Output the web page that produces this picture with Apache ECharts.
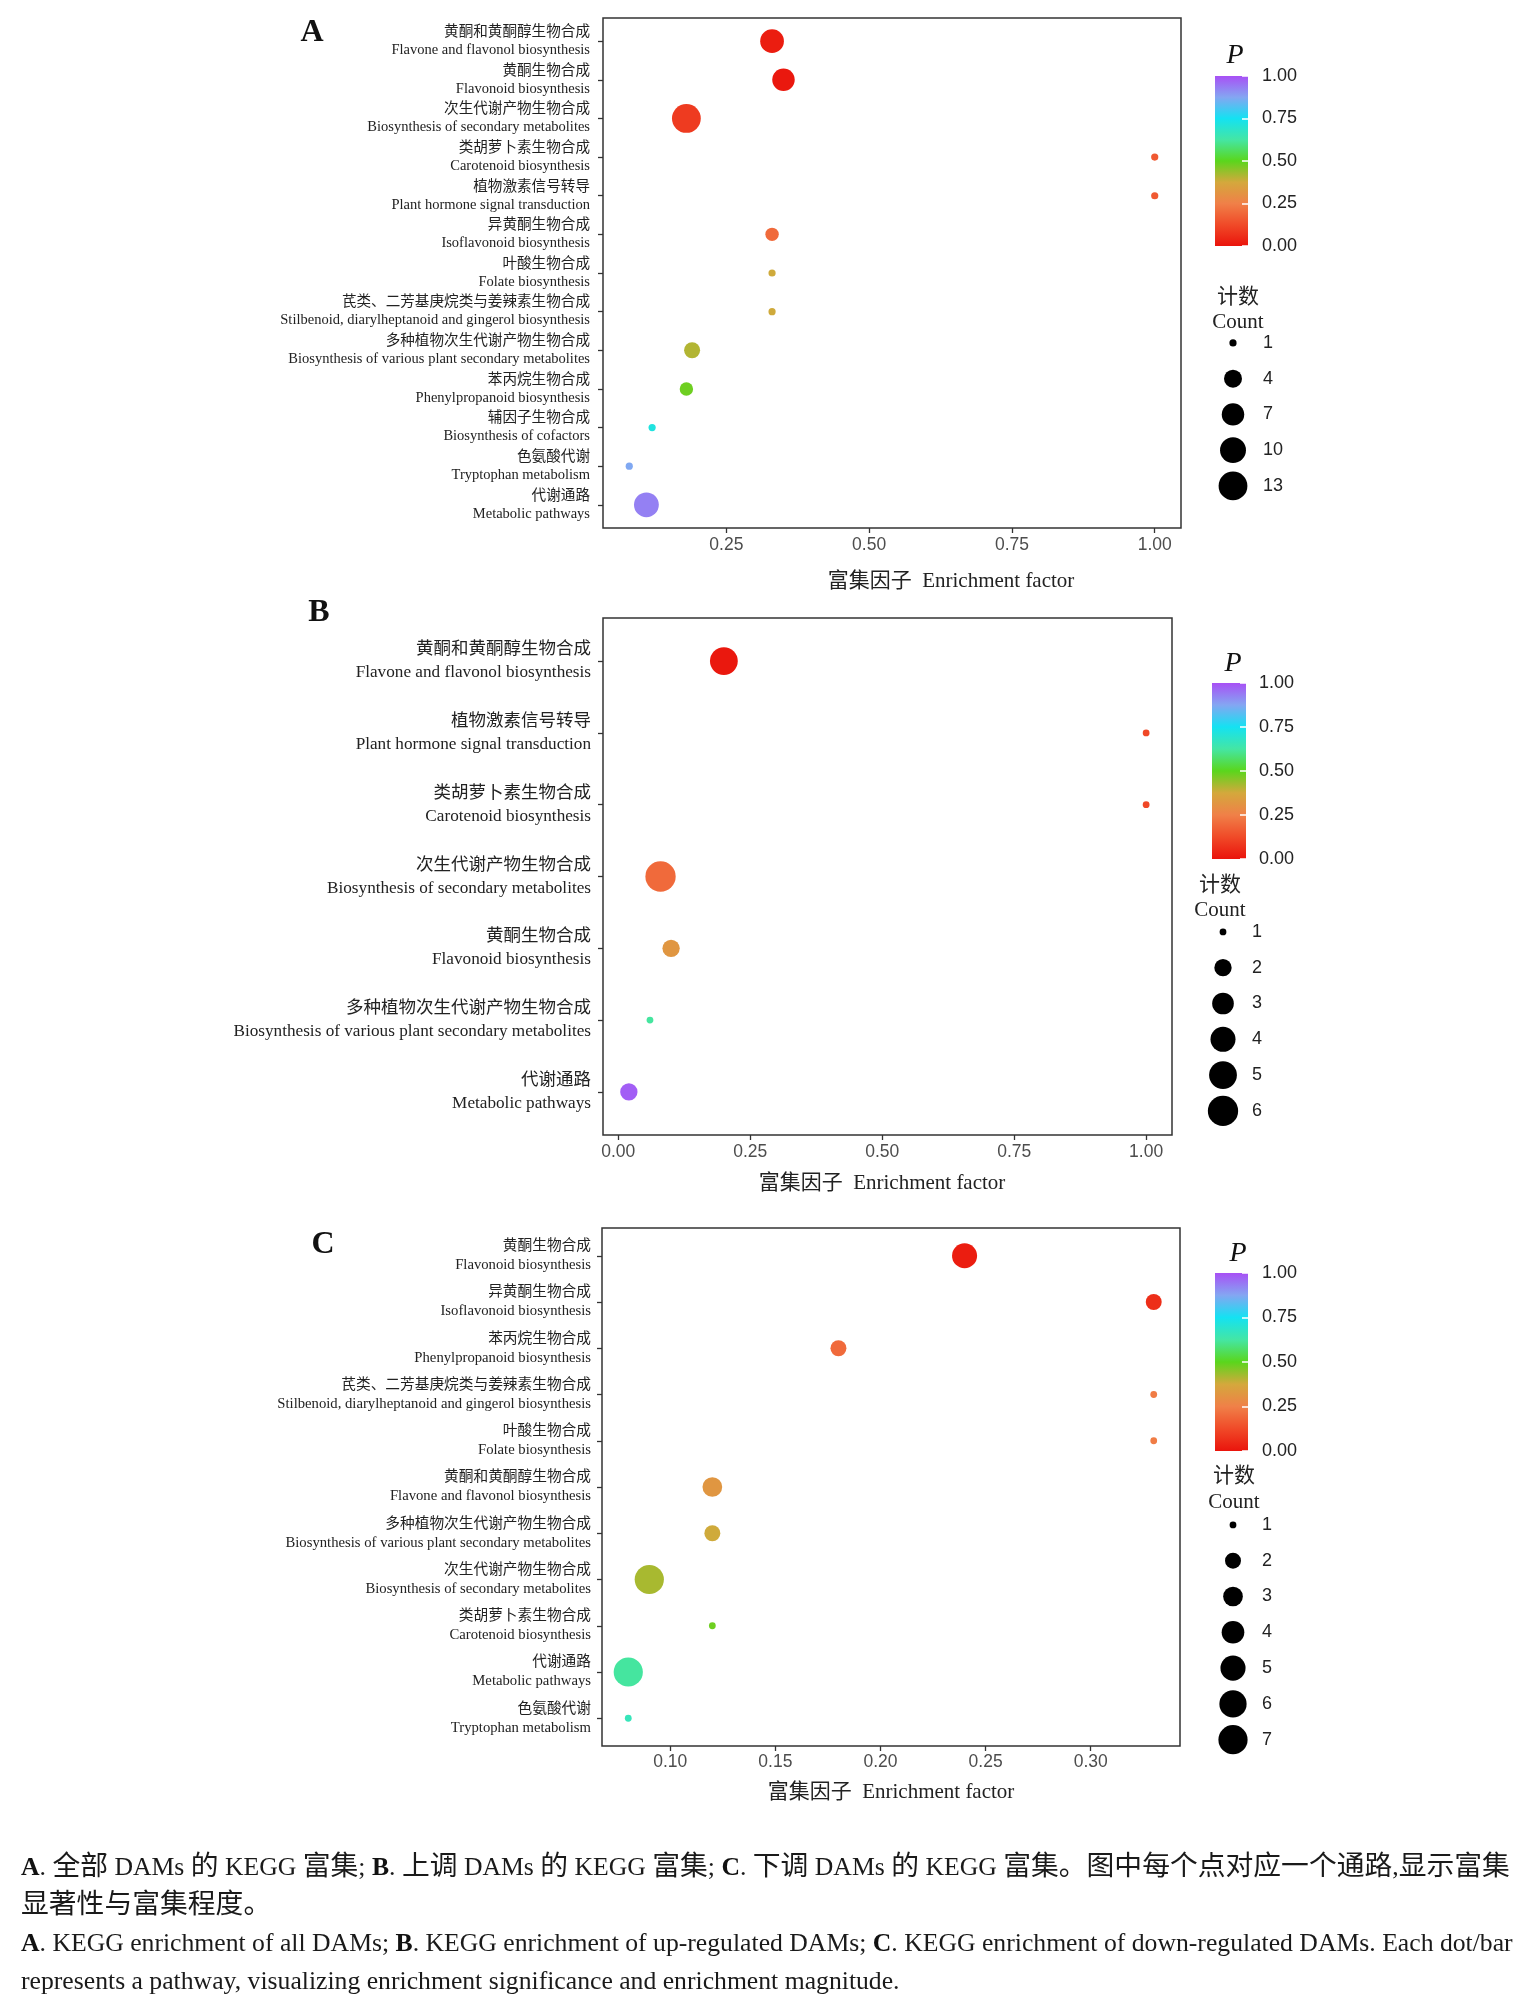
<!DOCTYPE html>
<html>
<head>
<meta charset="utf-8">
<title>KEGG enrichment</title>
<script src="https://cdn.jsdelivr.net/npm/echarts@6/dist/echarts.min.js"></script>
<style>
  html, body { margin: 0; padding: 0; background: #fff; }
  #chart { width: 1527px; height: 2009px; }
</style>
</head>
<body>
<div id="chart"></div>
<script>
// ---- data ----
// A: all DAMs
const pathCnA = ['黄酮和黄酮醇生物合成', '黄酮生物合成', '次生代谢产物生物合成', '类胡萝卜素生物合成', '植物激素信号转导',
  '异黄酮生物合成', '叶酸生物合成', '芪类、二芳基庚烷类与姜辣素生物合成', '多种植物次生代谢产物生物合成', '苯丙烷生物合成',
  '辅因子生物合成', '色氨酸代谢', '代谢通路'];
const pathEnA = ['Flavone and flavonol biosynthesis', 'Flavonoid biosynthesis', 'Biosynthesis of secondary metabolites',
  'Carotenoid biosynthesis', 'Plant hormone signal transduction', 'Isoflavonoid biosynthesis', 'Folate biosynthesis',
  'Stilbenoid, diarylheptanoid and gingerol biosynthesis', 'Biosynthesis of various plant secondary metabolites',
  'Phenylpropanoid biosynthesis', 'Biosynthesis of cofactors', 'Tryptophan metabolism', 'Metabolic pathways'];
const efA = [0.33, 0.35, 0.18, 1.00, 1.00, 0.33, 0.33, 0.33, 0.19, 0.18, 0.12, 0.08, 0.11];
const pA = [0.02, 0.01, 0.09, 0.16, 0.16, 0.20, 0.38, 0.38, 0.41, 0.48, 0.72, 0.87, 0.93];
const countA = [8, 7, 13, 1, 1, 2, 1, 1, 3, 2, 1, 1, 9];

// B: up-regulated DAMs
const pathCnB = ['黄酮和黄酮醇生物合成', '植物激素信号转导', '类胡萝卜素生物合成', '次生代谢产物生物合成', '黄酮生物合成',
  '多种植物次生代谢产物生物合成', '代谢通路'];
const pathEnB = ['Flavone and flavonol biosynthesis', 'Plant hormone signal transduction', 'Carotenoid biosynthesis',
  'Biosynthesis of secondary metabolites', 'Flavonoid biosynthesis', 'Biosynthesis of various plant secondary metabolites',
  'Metabolic pathways'];
const efB = [0.20, 1.00, 1.00, 0.08, 0.10, 0.06, 0.02];
const pB = [0.01, 0.12, 0.12, 0.20, 0.32, 0.62, 0.98];
const countB = [5, 1, 1, 6, 2, 1, 2];

// C: down-regulated DAMs
const pathCnC = ['黄酮生物合成', '异黄酮生物合成', '苯丙烷生物合成', '芪类、二芳基庚烷类与姜辣素生物合成', '叶酸生物合成',
  '黄酮和黄酮醇生物合成', '多种植物次生代谢产物生物合成', '次生代谢产物生物合成', '类胡萝卜素生物合成', '代谢通路', '色氨酸代谢'];
const pathEnC = ['Flavonoid biosynthesis', 'Isoflavonoid biosynthesis', 'Phenylpropanoid biosynthesis',
  'Stilbenoid, diarylheptanoid and gingerol biosynthesis', 'Folate biosynthesis', 'Flavone and flavonol biosynthesis',
  'Biosynthesis of various plant secondary metabolites', 'Biosynthesis of secondary metabolites', 'Carotenoid biosynthesis',
  'Metabolic pathways', 'Tryptophan metabolism'];
const efC = [0.24, 0.33, 0.18, 0.33, 0.33, 0.12, 0.12, 0.09, 0.12, 0.08, 0.08];
const pC = [0.02, 0.06, 0.20, 0.24, 0.24, 0.32, 0.38, 0.42, 0.48, 0.62, 0.66];
const countC = [5, 2, 2, 1, 1, 3, 2, 7, 1, 7, 1];

// tick labels / legend breaks
const ticksA = [0.25, 0.50, 0.75, 1.00];
const ticksB = [0.00, 0.25, 0.50, 0.75, 1.00];
const ticksC = [0.10, 0.15, 0.20, 0.25, 0.30];
const countBreaksA = [1, 4, 7, 10, 13];
const countBreaksB = [1, 2, 3, 4, 5, 6];
const countBreaksC = [1, 2, 3, 4, 5, 6, 7];
const pMax = 1;

// ---- styling ----
const serif = "'Liberation Serif','Noto Sans CJK SC',serif";
const sans = "'Liberation Sans','Noto Sans',sans-serif";
const ramp = ['#ea140c', '#f04a28', '#f08048', '#d4a83c', '#5ad61c', '#44e6a4', '#14e2f2', '#84a6f2', '#a850f5'];

const panels = [
  { cn: pathCnA, en: pathEnA, ef: efA, p: pA, n: countA, ticks: ticksA, breaks: countBreaksA,
    grid: { left: 603, top: 18, width: 578, height: 510 }, cnSize: 14.6, enSize: 14.5, lh: 18, labelGap: 13, tickGap: 8,
    bar: { left: 1215, top: 76, width: 33, height: 170 }, barGap: 14,
    dot: { x: 1233, top: 325, step: 35.75, gap: 16 }, dmin: 7.2, dmax: 28.8,
    letter: ['A', 312, 33], pTitle: [1235, 56], cntTitle: [1238, 297, 322], xTitle: [951, 581] },
  { cn: pathCnB, en: pathEnB, ef: efB, p: pB, n: countB, ticks: ticksB, breaks: countBreaksB,
    grid: { left: 603, top: 618, width: 569, height: 517 }, cnSize: 17.5, enSize: 17.2, lh: 23, labelGap: 12, tickGap: 8,
    bar: { left: 1212, top: 683, width: 34, height: 176 }, barGap: 13,
    dot: { x: 1223, top: 914, step: 35.8, gap: 15 }, dmin: 6.8, dmax: 30.3,
    letter: ['B', 319, 613], pTitle: [1233, 664], cntTitle: [1220, 885, 910], xTitle: [882, 1183] },
  { cn: pathCnC, en: pathEnC, ef: efC, p: pC, n: countC, ticks: ticksC, breaks: countBreaksC,
    grid: { left: 602, top: 1228, width: 578, height: 518 }, cnSize: 14.7, enSize: 14.7, lh: 19, labelGap: 11, tickGap: 7,
    bar: { left: 1215, top: 1273, width: 33, height: 178 }, barGap: 14,
    dot: { x: 1233, top: 1507, step: 35.8, gap: 15 }, dmin: 6.8, dmax: 29.2,
    letter: ['C', 323, 1245], pTitle: [1238, 1254], cntTitle: [1234, 1476, 1502], xTitle: [891, 1792] }
];

function sizeScale(pn) {
  const lo = Math.min(...pn.breaks), hi = Math.max(...pn.breaks);
  return c => pn.dmin + (pn.dmax - pn.dmin) * Math.sqrt((c - lo) / (hi - lo));
}

const grid = [], xAxis = [], yAxis = [], series = [], visualMap = [], graphic = [];

panels.forEach((pn, i) => {
  const g = i * 3;
  const size = sizeScale(pn);
  const lo = Math.min(...pn.ef), hi = Math.max(...pn.ef), pad = (hi - lo) * 0.05;
  const cats = pn.cn.map((_, k) => k);

  // main dot plot
  grid.push(Object.assign({ show: true, borderColor: '#333', borderWidth: 1.5 }, pn.grid));
  xAxis.push({
    type: 'value', gridIndex: g, min: lo - pad, max: hi + pad,
    axisLine: { show: false, onZero: false }, splitLine: { show: false },
    axisTick: { show: true, customValues: pn.ticks, length: 5, lineStyle: { color: '#333', width: 1.3 } },
    axisLabel: { customValues: pn.ticks, margin: pn.tickGap, formatter: v => v.toFixed(2),
      color: '#4d4d4d', fontSize: 17.5, fontFamily: sans }
  });
  yAxis.push({
    type: 'value', gridIndex: g, inverse: true, min: -0.6, max: pn.cn.length - 0.4,
    axisLine: { show: false, onZero: false }, splitLine: { show: false },
    axisTick: { show: true, customValues: cats, length: 5, lineStyle: { color: '#333', width: 1.3 } },
    axisLabel: {
      customValues: cats, margin: pn.labelGap, align: 'right',
      formatter: v => { const k = Math.round(v); return '{cn|' + pn.cn[k] + '}\n{en|' + pn.en[k] + '}'; },
      rich: {
        cn: { fontSize: pn.cnSize, fontFamily: serif, color: '#222', lineHeight: pn.lh, align: 'right' },
        en: { fontSize: pn.enSize, fontFamily: serif, color: '#222', lineHeight: pn.lh, align: 'right' }
      }
    }
  });
  visualMap.push({
    type: 'continuous', show: false, seriesIndex: series.length, dimension: 2,
    min: 0, max: pMax, inRange: { color: ramp }
  });
  series.push({
    type: 'scatter', xAxisIndex: g, yAxisIndex: g, z: 3,
    data: pn.ef.map((x, k) => [x, k, pn.p[k], pn.n[k]]),
    symbolSize: v => size(v[3]),
    itemStyle: { opacity: 1 }
  });

  // P colour bar
  grid.push(Object.assign({}, pn.bar));
  xAxis.push({ type: 'category', gridIndex: g + 1, data: ['P'], show: false });
  yAxis.push({
    type: 'value', gridIndex: g + 1, min: 0, max: pMax, interval: 0.25, position: 'right', z: 5,
    axisLine: { show: false }, splitLine: { show: false },
    axisTick: { show: true, inside: true, length: 6, lineStyle: { color: '#fff', width: 1.5 } },
    axisLabel: { margin: pn.barGap, formatter: v => v.toFixed(2), color: '#222', fontSize: 18, fontFamily: sans }
  });
  series.push({
    type: 'bar', xAxisIndex: g + 1, yAxisIndex: g + 1, barWidth: '100%', silent: true,
    data: [pMax],
    itemStyle: { color: new echarts.graphic.LinearGradient(0, 1, 0, 0,
      ramp.map((c, k) => ({ offset: k / (ramp.length - 1), color: c }))) }
  });

  // Count size legend
  grid.push({ left: pn.dot.x - 14, width: 28, top: pn.dot.top, height: pn.dot.step * pn.breaks.length });
  xAxis.push({ type: 'value', gridIndex: g + 2, min: -1, max: 1, show: false });
  yAxis.push({
    type: 'category', gridIndex: g + 2, inverse: true, position: 'right',
    data: pn.breaks.map(String),
    axisLine: { show: false }, axisTick: { show: false }, splitLine: { show: false },
    axisLabel: { margin: pn.dot.gap, color: '#222', fontSize: 18, fontFamily: sans }
  });
  series.push({
    type: 'scatter', xAxisIndex: g + 2, yAxisIndex: g + 2, silent: true,
    data: pn.breaks.map((c, k) => [0, k, c]),
    symbolSize: v => size(v[2]),
    itemStyle: { color: '#000', opacity: 1 }
  });

  // texts
  graphic.push({ type: 'text', x: pn.letter[1], y: pn.letter[2],
    style: { text: pn.letter[0], font: 'bold 32px ' + serif, fill: '#111', align: 'center', verticalAlign: 'middle' } });
  graphic.push({ type: 'text', x: pn.pTitle[0], y: pn.pTitle[1],
    style: { text: 'P', font: 'italic 28px ' + serif, fill: '#111', align: 'center', verticalAlign: 'middle' } });
  graphic.push({ type: 'text', x: pn.cntTitle[0], y: pn.cntTitle[1],
    style: { text: '计数', font: '21px ' + serif, fill: '#222', align: 'center', verticalAlign: 'middle' } });
  graphic.push({ type: 'text', x: pn.cntTitle[0], y: pn.cntTitle[2],
    style: { text: 'Count', font: '21px ' + serif, fill: '#222', align: 'center', verticalAlign: 'middle' } });
  graphic.push({ type: 'text', x: pn.xTitle[0], y: pn.xTitle[1],
    style: { text: '富集因子  Enrichment factor', font: '21px ' + serif, fill: '#222', align: 'center', verticalAlign: 'middle' } });
});

// caption
const captionLines = [
  '{b|A}. {c|全部} DAMs {c|的} KEGG {c|富集}; {b|B}. {c|上调} DAMs {c|的} KEGG {c|富集}; {b|C}. {c|下调} DAMs {c|的} KEGG {c|富集。图中每个点对应一个通路},{c|显示富集}',
  '{c|显著性与富集程度。}',
  '{b|A}. KEGG enrichment of all DAMs; {b|B}. KEGG enrichment of up-regulated DAMs; {b|C}. KEGG enrichment of down-regulated DAMs. Each dot/bar',
  'represents a pathway, visualizing enrichment significance and enrichment magnitude.'
];
const captionY = [1868, 1906, 1944, 1982];
captionLines.forEach((t, k) => {
  graphic.push({ type: 'text', x: 21, y: captionY[k],
    style: { text: t, font: '25.7px ' + serif, fill: '#1a1a1a', align: 'left', verticalAlign: 'middle',
      rich: {
        b: { fontWeight: 'bold', fontSize: 25.7, fontFamily: serif, fill: '#111' },
        c: { fontSize: 27.8, fontFamily: serif, fill: '#1a1a1a' }
      } } });
});

const chart = echarts.init(document.getElementById('chart'), null, { renderer: 'canvas' });
chart.setOption({
  animation: false,
  backgroundColor: '#fff',
  grid, xAxis, yAxis, series, visualMap, graphic
});
</script>
</body>
</html>
